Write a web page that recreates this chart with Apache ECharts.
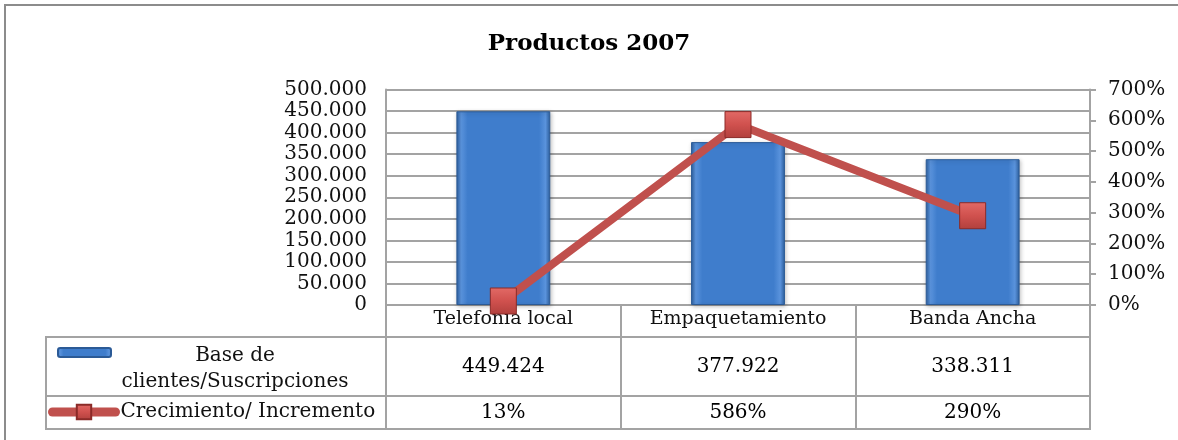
<!DOCTYPE html>
<html>
<head>
<meta charset="utf-8">
<script src="https://cdn.jsdelivr.net/npm/echarts@6/dist/echarts.min.js"></script>
<style>
html,body{margin:0;padding:0;background:#fff;}
#chart{width:1178px;height:440px;}
</style>
</head>
<body>
<div id="chart"></div>
<script>
// ---- data ----
const categories = ['Telefonia local', 'Empaquetamiento', 'Banda Ancha'];
const baseName = 'Base de clientes/Suscripciones';
const growthName = 'Crecimiento/ Incremento';
const baseValues = [449424, 377922, 338311];
const growthValues = [13, 586, 290]; // percent
const leftTicks = { min: 0, max: 500000, interval: 50000 };
const rightTicks = { min: 0, max: 700, interval: 100 };

// ---- helpers ----
const FONT = 'DejaVu Serif';
const TXT = '#111';
const GRID = '#a3a3a3';
const fmt = v => String(v).replace(/\B(?=(\d{3})+(?!\d))/g, '.');

const barGrad = new echarts.graphic.LinearGradient(0, 0, 1, 0, [
  { offset: 0, color: '#2c5f9f' },
  { offset: 0.05, color: '#5a93dc' },
  { offset: 0.12, color: '#3f7dcc' },
  { offset: 0.88, color: '#3f7dcc' },
  { offset: 0.95, color: '#5a93dc' },
  { offset: 1, color: '#2c5f9f' }
]);
const markGrad = new echarts.graphic.LinearGradient(0, 0, 0, 1, [
  { offset: 0, color: '#e26a66' },
  { offset: 0.5, color: '#d0514e' },
  { offset: 1, color: '#b1403d' }
]);

const chart = echarts.init(document.getElementById('chart'), null, { renderer: 'canvas' });

const hiddenAxisCommon = {
  axisLine: { show: false }, axisTick: { show: false }, axisLabel: { show: false }
};

const option = {
  backgroundColor: '#fff',
  animation: false,
  title: {
    text: 'Productos 2007',
    left: 'center', top: 33, padding: 0,
    textStyle: { fontFamily: FONT, fontWeight: 'bold', fontSize: 23, color: '#000' }
  },
  legend: [
    {
      data: [baseName],
      left: 57, top: 346, padding: 0,
      itemWidth: 53, itemHeight: 9,
      selectedMode: false,
      formatter: () => '{c|Base de}\n{c|clientes/Suscripciones}',
      textStyle: {
        fontFamily: FONT, fontSize: 20, color: TXT,
        padding: [33, 0, 0, 0],
        rich: { c: { width: 238, align: 'center', fontFamily: FONT, fontSize: 20, lineHeight: 26, color: TXT } }
      }
    },
    {
      data: [growthName],
      left: 48, top: 402, padding: 0,
      itemWidth: 63, itemHeight: 18,
      selectedMode: false,
      lineStyle: { width: 9, color: '#c0504d', cap: 'round' },
      textStyle: { fontFamily: FONT, fontSize: 20, color: TXT }
    }
  ],
  grid: [
    { left: 386, right: 88, top: 89.5, bottom: 135 },
    { left: 386, right: 88, top: 337, height: 59, show: true, borderColor: GRID, borderWidth: 2 },
    { left: 386, right: 88, top: 396, height: 33, show: true, borderColor: GRID, borderWidth: 2 }
  ],
  xAxis: [
    {
      gridIndex: 0, type: 'category', data: categories,
      axisLine: { show: true, lineStyle: { color: GRID, width: 2 } },
      axisTick: { show: true, length: 32, interval: 0, lineStyle: { color: GRID, width: 2 } },
      axisLabel: { margin: 5, fontFamily: FONT, fontSize: 19, color: TXT, interval: 0 }
    },
    {
      gridIndex: 1, type: 'category', data: categories, ...hiddenAxisCommon,
      splitLine: { show: true, interval: 0, lineStyle: { color: GRID, width: 2 } }
    },
    {
      gridIndex: 2, type: 'category', data: categories, ...hiddenAxisCommon,
      splitLine: { show: true, interval: 0, lineStyle: { color: GRID, width: 2 } }
    }
  ],
  yAxis: [
    {
      gridIndex: 0, type: 'value', position: 'left',
      min: leftTicks.min, max: leftTicks.max, interval: leftTicks.interval,
      axisLine: { show: true, lineStyle: { color: GRID, width: 2 } },
      axisTick: { show: false },
      splitLine: { show: true, lineStyle: { color: GRID, width: 2 } },
      axisLabel: { margin: 19, fontFamily: FONT, fontSize: 20, color: TXT, formatter: v => fmt(v) }
    },
    {
      gridIndex: 0, type: 'value', position: 'right',
      min: rightTicks.min, max: rightTicks.max, interval: rightTicks.interval,
      axisLine: { show: true, lineStyle: { color: GRID, width: 2 } },
      axisTick: { show: true, inside: false, length: 6, lineStyle: { color: GRID, width: 2 } },
      splitLine: { show: false },
      axisLabel: { margin: 18, fontFamily: FONT, fontSize: 20, color: TXT, formatter: v => v + '%' }
    },
    { gridIndex: 1, type: 'value', min: -1, max: 1, show: false },
    { gridIndex: 2, type: 'value', min: -1, max: 1, show: false }
  ],
  series: [
    {
      name: baseName, type: 'bar', xAxisIndex: 0, yAxisIndex: 0,
      data: baseValues, barWidth: '40%',
      itemStyle: {
        color: barGrad, borderColor: '#2b5a96', borderWidth: 1,
        shadowColor: 'rgba(0,0,0,0.25)', shadowBlur: 4, shadowOffsetX: 1, shadowOffsetY: 1
      },
      z: 2
    },
    {
      name: growthName, type: 'line', xAxisIndex: 0, yAxisIndex: 1,
      data: growthValues,
      lineStyle: { color: '#c0504d', width: 8 },
      symbol: 'rect', symbolSize: 26,
      itemStyle: { color: markGrad, borderColor: '#8b2b28', borderWidth: 1 },
      z: 3
    },
    {
      name: 'tablaBase', type: 'scatter', xAxisIndex: 1, yAxisIndex: 2,
      data: baseValues.map((v, i) => [i, 0]),
      symbolSize: 1, itemStyle: { color: 'rgba(0,0,0,0)', opacity: 1 },
      label: {
        show: true, position: 'inside', fontFamily: FONT, fontSize: 20, color: '#000',
        formatter: p => fmt(baseValues[p.dataIndex])
      }
    },
    {
      name: 'tablaCrec', type: 'scatter', xAxisIndex: 2, yAxisIndex: 3,
      data: growthValues.map((v, i) => [i, 0]),
      symbolSize: 1, itemStyle: { color: 'rgba(0,0,0,0)', opacity: 1 },
      label: {
        show: true, position: 'inside', fontFamily: FONT, fontSize: 20, color: '#000',
        formatter: p => growthValues[p.dataIndex] + '%'
      }
    }
  ],
  graphic: [
    { type: 'rect', shape: { x: 5, y: 5, width: 1300, height: 600 }, style: { fill: 'none', stroke: '#8c8c8c', lineWidth: 2 }, silent: true },
    { type: 'rect', shape: { x: 46, y: 337, width: 340, height: 59 }, style: { fill: 'none', stroke: GRID, lineWidth: 2 }, silent: true },
    { type: 'rect', shape: { x: 46, y: 396, width: 340, height: 33 }, style: { fill: 'none', stroke: GRID, lineWidth: 2 }, silent: true }
  ]
};
chart.setOption(option);
</script>
</body>
</html>
